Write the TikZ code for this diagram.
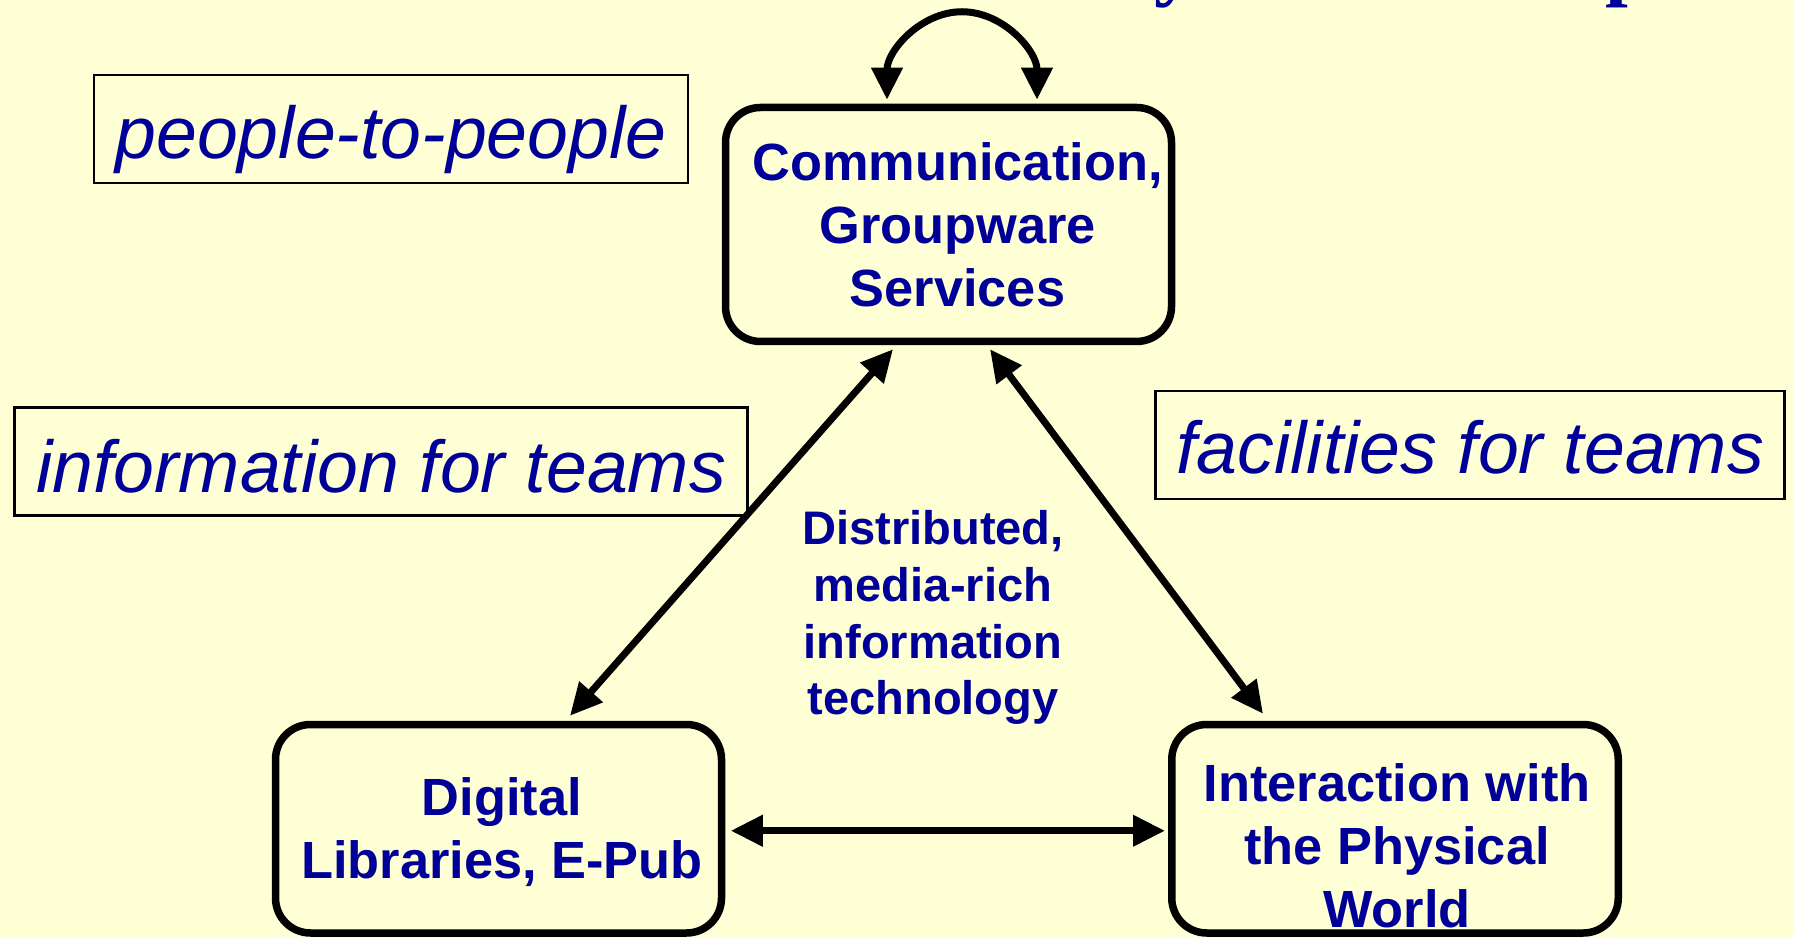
\documentclass[tikz,border=0pt]{standalone}
\usepackage{fontspec}
\setmainfont{Liberation Sans}
\newfontfamily\titlefont{Liberation Serif}
\usetikzlibrary{arrows.meta,calc}
\definecolor{Paper}{HTML}{FFFFD6}
\definecolor{Navy}{HTML}{000099}

\begin{document}
\begin{tikzpicture}[every node/.style={text=Navy},
  areabox/.style={draw=black,line width=0.027cm,font=\fontsize{20.9}{25}\selectfont\itshape,inner sep=0pt},
  techbox/.style={draw=black,line width=0.075cm,rounded corners=0.35cm,inner sep=2pt,align=center,font=\fontsize{14.9}{17.9}\selectfont\bfseries},
  boxtext/.style={align=center,inner sep=0pt,font=\fontsize{14.9}{17.9}\selectfont\bfseries},
  twoway/.style={{Triangle[length=0.32cm,width=0.3cm]}-{Triangle[length=0.32cm,width=0.3cm]},line width=0.07cm,draw=black}]
\useasboundingbox (0,0) rectangle (17.93,9.38);
\clip (0,0) rectangle (17.93,9.38);
\fill[Paper] (0,0) rectangle (17.93,9.38);

% heading runs off the top edge
\node[font=\titlefont\fontsize{23.3}{28}\selectfont\bfseries,anchor=base west,inner sep=0pt] (heady) at (11.54,9.475) {y};
\node[font=\titlefont\fontsize{23.3}{28}\selectfont\bfseries,anchor=base west,inner sep=0pt] (headp) at (16.05,9.47) {p};

\node[areabox,minimum width=5.94cm,minimum height=1.08cm,text height=0.74cm] (p2p) at (3.91,8.09) {people-to-people};
\node[areabox,minimum width=7.33cm,minimum height=1.08cm,text height=0.63cm] (info) at (3.81,4.765) {information for teams};
\node[areabox,minimum width=6.29cm,minimum height=1.08cm,text height=0.58cm] (fac) at (14.70,4.93) {facilities for teams};

\node[techbox,minimum width=4.46cm,minimum height=2.34cm] (comm) at (9.485,7.135) {};
\node[boxtext] (commtext) at (9.575,7.135) {Communication,\\Groupware\\Services};
\node[techbox,minimum width=4.46cm,minimum height=2.085cm] (diglib) at (4.985,1.0925) {};
\node[boxtext] (diglibtext) at (5.02,1.055) {Digital\\Libraries, E-Pub};
\node[techbox,minimum width=4.465cm,minimum height=2.085cm] (world) at (13.95,1.0925) {};
\node[boxtext] (worldtext) at (13.97,0.92) {Interaction with\\the Physical\\World};
\node[align=center,font=\fontsize{13.4}{16.2}\selectfont\bfseries] (mid) at (9.33,3.205) {Distributed,\\media-rich\\information\\technology};

\draw[twoway] ([xshift=-0.615cm,yshift=0.04cm]comm.north) arc[start angle=180,end angle=0,x radius=0.75cm,y radius=0.88cm];
\draw[twoway] ([xshift=-0.555cm,yshift=-0.04cm]comm.south) -- ([xshift=0.715cm,yshift=0.05cm]diglib.north);
\draw[twoway] ([xshift=0.415cm,yshift=-0.04cm]comm.south) -- ([xshift=-1.32cm,yshift=0.07cm]world.north);
\draw[twoway] ([xshift=0.055cm,yshift=-0.02cm]diglib.east) -- ([xshift=-0.03cm,yshift=-0.02cm]world.west);

\end{tikzpicture}
\end{document}
